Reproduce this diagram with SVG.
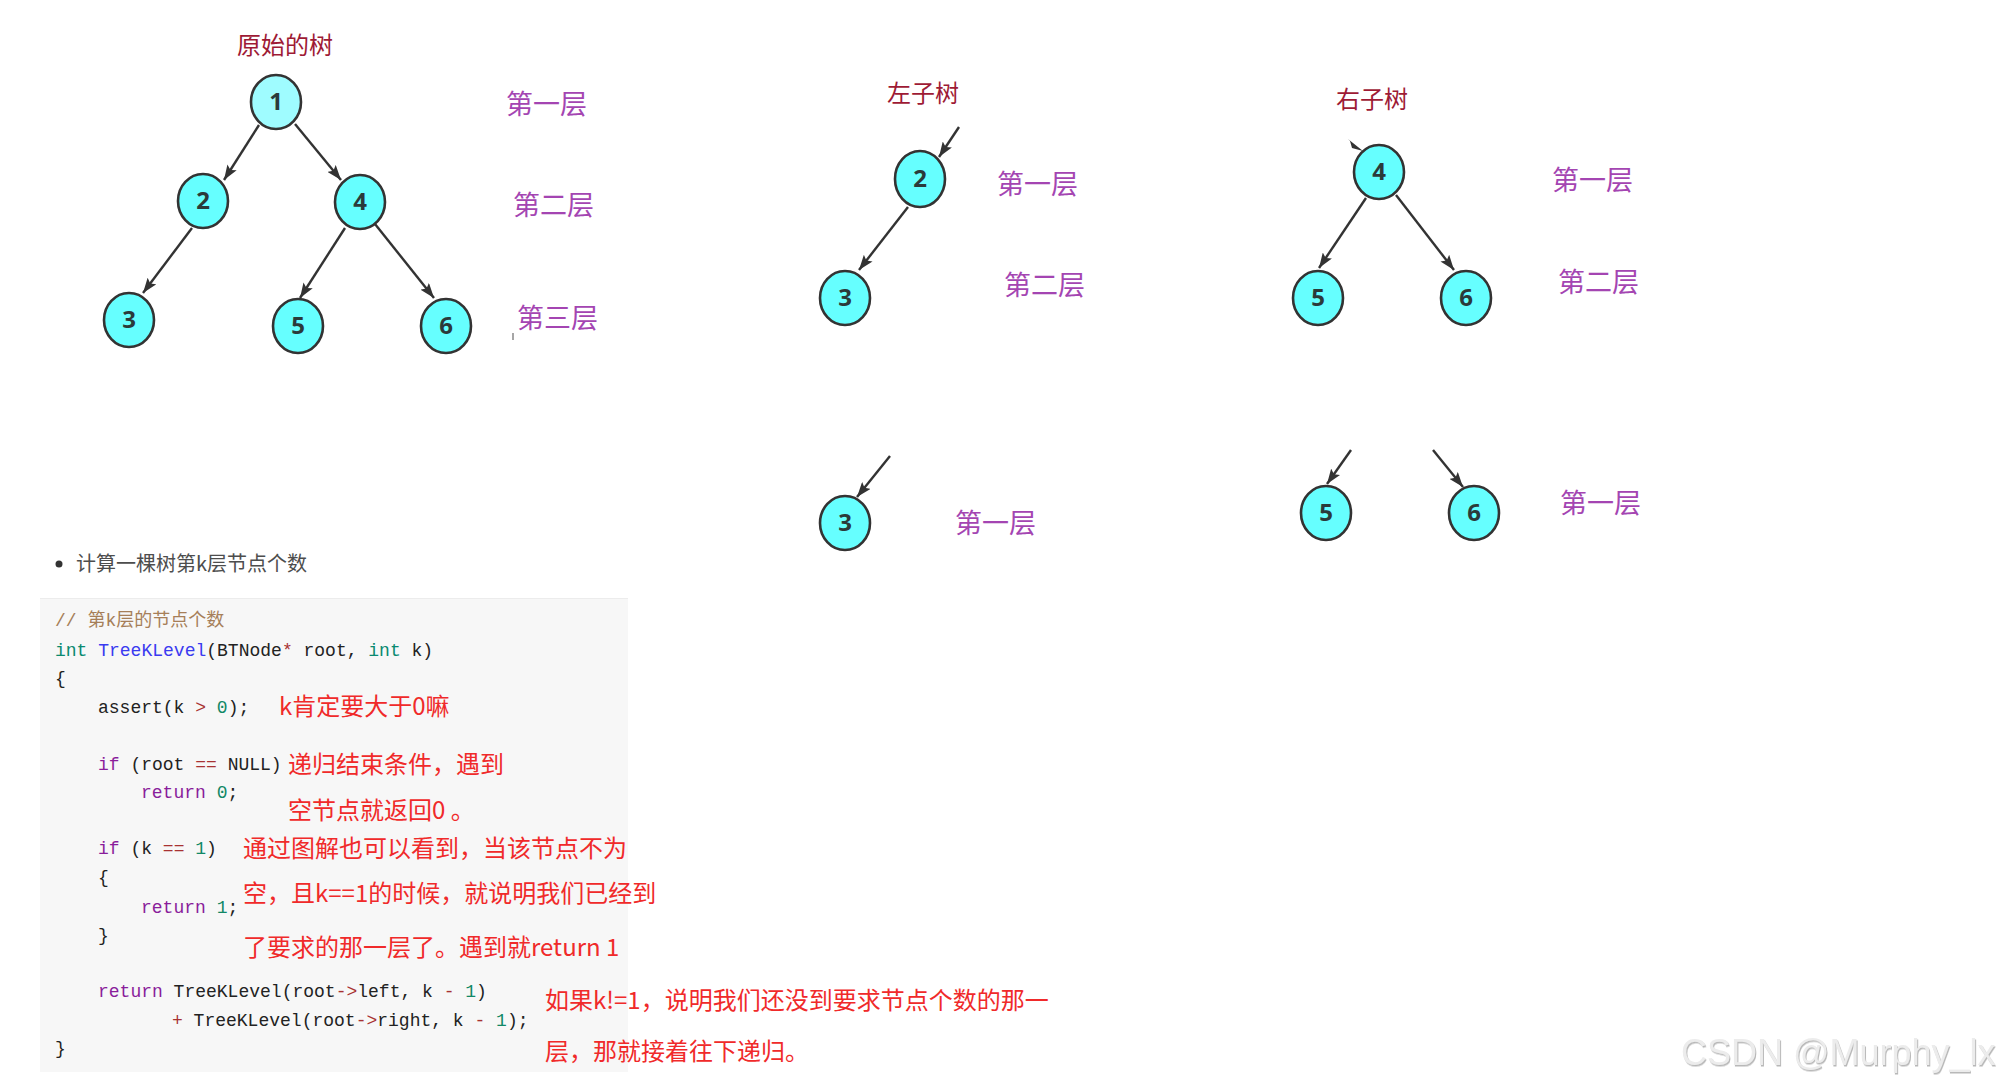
<svg xmlns="http://www.w3.org/2000/svg" width="1997" height="1087" viewBox="0 0 1997 1087">
<style>
.nd ellipse{fill:#66ffff;stroke:#333;stroke-width:2.6}
.nd text{font-family:"Open Sans","Noto Sans",sans-serif;font-weight:bold;font-size:24px;fill:#2b3a3a;text-anchor:middle}
.ttl{font-family:"Noto Sans CJK SC",sans-serif;font-size:24px;fill:#9e1a35}
.lv{font-family:"Noto Sans CJK SC",sans-serif;font-size:27px;fill:#a445b2}
.ed line{stroke:#333;stroke-width:2.4;marker-end:url(#ah)}
.code{font-family:"Liberation Mono","Noto Sans CJK SC",monospace;font-size:18px;fill:#222}
.cm{fill:#a67f59}.kw{fill:#8a1d9b}.ty{fill:#0a8a70}.df{fill:#3a3af0}.op{fill:#a83232}.nu{fill:#118866}
.red{font-family:"Noto Sans CJK SC",sans-serif;font-size:24px;fill:#f02a2a}
</style>
<defs>
<marker id="ah" viewBox="0 0 15 11" refX="15" refY="5.5" markerWidth="15" markerHeight="11" markerUnits="userSpaceOnUse" orient="auto">
<path d="M0,0 L15,5.5 L0,11 L3,5.5 z" fill="#333"/>
</marker>
<filter id="emb" x="-5%" y="-20%" width="110%" height="140%">
<feDropShadow dx="1" dy="1.5" stdDeviation="0.6" flood-color="#b0b0b0" flood-opacity="0.9"/>
</filter>
</defs>
<rect width="1997" height="1087" fill="#fff"/>

<!-- titles and level labels -->
<text class="ttl" x="237" y="54">原始的树</text>
<text class="ttl" x="887" y="102">左子树</text>
<text class="ttl" x="1336" y="108">右子树</text>
<text class="lv" x="506" y="114">第一层</text>
<text class="lv" x="513" y="215">第二层</text>
<text class="lv" x="517" y="328">第三层</text>
<text class="lv" x="997" y="194">第一层</text>
<text class="lv" x="1004" y="295">第二层</text>
<text class="lv" x="1552" y="190">第一层</text>
<text class="lv" x="1558" y="292">第二层</text>
<text class="lv" x="955" y="533">第一层</text>
<text class="lv" x="1560" y="513">第一层</text>
<line x1="513" y1="333" x2="513" y2="340" stroke="#888" stroke-width="1.5"/>

<!-- connectors -->
<g class="ed" id="connectors">
<line x1="259" y1="125" x2="224" y2="180"/>
<line x1="295" y1="124" x2="341" y2="180"/>
<line x1="192" y1="228" x2="143" y2="293"/>
<line x1="345" y1="228" x2="300" y2="298"/>
<line x1="375" y1="224" x2="434" y2="298"/>
<line x1="959" y1="127" x2="939" y2="157"/>
<line x1="908" y1="207" x2="859" y2="270"/>
<path d="M1348,139 L1363,151 L1352,148 L1350,141 z" fill="#333"/>
<line x1="1366" y1="198" x2="1319" y2="268"/>
<line x1="1396" y1="195" x2="1454" y2="270"/>
<line x1="890" y1="456" x2="857" y2="497"/>
<line x1="1351" y1="450" x2="1327" y2="484"/>
<line x1="1433" y1="450" x2="1463" y2="487"/>
</g>

<!-- nodes -->
<g class="nd" id="n1"><ellipse cx="276" cy="102" rx="25" ry="27" style="fill:#9ffcff"/><text x="276" y="110">1</text></g>
<g class="nd" id="n2"><ellipse cx="203" cy="201" rx="25" ry="27"/><text x="203" y="209">2</text></g>
<g class="nd" id="n4"><ellipse cx="360" cy="202" rx="25" ry="27"/><text x="360" y="210">4</text></g>
<g class="nd" id="n3"><ellipse cx="129" cy="320" rx="25" ry="27"/><text x="129" y="328">3</text></g>
<g class="nd" id="n5"><ellipse cx="298" cy="326" rx="25" ry="27"/><text x="298" y="334">5</text></g>
<g class="nd" id="n6"><ellipse cx="446" cy="326" rx="25" ry="27"/><text x="446" y="334">6</text></g>
<g class="nd" id="l2"><ellipse cx="920" cy="179" rx="25" ry="28"/><text x="920" y="187">2</text></g>
<g class="nd" id="l3"><ellipse cx="845" cy="298" rx="25" ry="27"/><text x="845" y="306">3</text></g>
<g class="nd" id="r4"><ellipse cx="1379" cy="172" rx="25" ry="27"/><text x="1379" y="180">4</text></g>
<g class="nd" id="r5"><ellipse cx="1318" cy="298" rx="25" ry="27"/><text x="1318" y="306">5</text></g>
<g class="nd" id="r6"><ellipse cx="1466" cy="298" rx="25" ry="27"/><text x="1466" y="306">6</text></g>
<g class="nd" id="b3"><ellipse cx="845" cy="523" rx="25" ry="27"/><text x="845" y="531">3</text></g>
<g class="nd" id="b5"><ellipse cx="1326" cy="513" rx="25" ry="27"/><text x="1326" y="521">5</text></g>
<g class="nd" id="b6"><ellipse cx="1474" cy="513" rx="25" ry="27"/><text x="1474" y="521">6</text></g>

<!-- bullet heading -->
<circle cx="59" cy="564" r="3.5" fill="#333"/>
<text x="76" y="571" style="font-family:'Noto Sans CJK SC',sans-serif;font-size:20px;fill:#4d4d4d">计算一棵树第k层节点个数</text>

<!-- code block -->
<rect x="40" y="598" width="588" height="474" fill="#f7f7f7"/>
<line x1="40" y1="598.5" x2="628" y2="598.5" stroke="#ececec"/>
<g class="code" xml:space="preserve">
<text x="55" y="626" class="cm">// 第k层的节点个数</text>
<text x="55" y="656"><tspan class="ty">int</tspan> <tspan class="df">TreeKLevel</tspan>(BTNode<tspan class="op">*</tspan> root, <tspan class="ty">int</tspan> k)</text>
<text x="55" y="684">{</text>
<text x="98" y="713">assert(k <tspan class="op">&gt;</tspan> <tspan class="nu">0</tspan>);</text>
<text x="98" y="770"><tspan class="kw">if</tspan> (root <tspan class="op">==</tspan> NULL)</text>
<text x="141" y="798"><tspan class="kw">return</tspan> <tspan class="nu">0</tspan>;</text>
<text x="98" y="854"><tspan class="kw">if</tspan> (k <tspan class="op">==</tspan> <tspan class="nu">1</tspan>)</text>
<text x="98" y="883">{</text>
<text x="141" y="913"><tspan class="kw">return</tspan> <tspan class="nu">1</tspan>;</text>
<text x="98" y="941">}</text>
<text x="98" y="997"><tspan class="kw">return</tspan> TreeKLevel(root<tspan class="op">-&gt;</tspan>left, k <tspan class="op">-</tspan> <tspan class="nu">1</tspan>)</text>
<text x="172" y="1026"><tspan class="op">+</tspan> TreeKLevel(root<tspan class="op">-&gt;</tspan>right, k <tspan class="op">-</tspan> <tspan class="nu">1</tspan>);</text>
<text x="55" y="1054">}</text>
</g>

<!-- red annotations -->
<text class="red" x="279" y="715">k肯定要大于0嘛</text>
<text class="red" x="288" y="773">递归结束条件，遇到</text>
<text class="red" x="288" y="819">空节点就返回0 。</text>
<text class="red" x="243" y="857">通过图解也可以看到，当该节点不为</text>
<text class="red" x="243" y="902">空，且k==1的时候，就说明我们已经到</text>
<text class="red" x="243" y="956">了要求的那一层了。遇到就return 1</text>
<text class="red" x="545" y="1009">如果k!=1，说明我们还没到要求节点个数的那一</text>
<text class="red" x="545" y="1060">层，那就接着往下递归。</text>

<!-- watermark -->
<text x="1681" y="1065" filter="url(#emb)" style="font-family:'Liberation Sans',Arial,sans-serif;font-size:36px;fill:#ececec">CSDN @Murphy_lx</text>
</svg>
